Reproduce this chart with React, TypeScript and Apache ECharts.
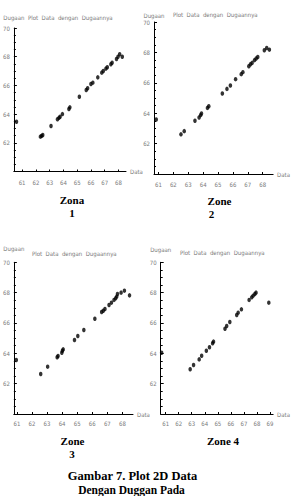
import React, { useEffect, useRef } from "react";
import * as echarts from "echarts";

const zone1X = [60.59, 62.33, 62.42, 62.5, 63.1, 63.57, 63.68, 63.76, 63.93, 64.4, 64.47, 65.16, 65.66, 65.76, 66.0, 66.14, 66.5, 66.79, 66.9, 67.09, 67.19, 67.45, 67.54, 67.86, 67.97, 68.09, 68.28];
const zone1Y = [63.47, 62.43, 62.48, 62.54, 63.17, 63.64, 63.74, 63.82, 64.0, 64.36, 64.47, 65.21, 65.68, 65.8, 66.1, 66.19, 66.56, 66.89, 67.0, 67.17, 67.26, 67.47, 67.58, 67.84, 68.0, 68.17, 68.0];

const zone2X = [60.85, 62.51, 62.73, 63.45, 63.73, 63.83, 63.89, 64.29, 64.38, 65.29, 65.6, 65.83, 66.18, 66.56, 66.67, 67.07, 67.18, 67.29, 67.45, 67.56, 67.67, 68.11, 68.27, 68.45];
const zone2Y = [63.59, 62.61, 62.82, 63.5, 63.72, 63.87, 63.98, 64.35, 64.46, 65.3, 65.6, 65.82, 66.24, 66.57, 66.7, 67.09, 67.22, 67.31, 67.49, 67.6, 67.7, 68.14, 68.29, 68.18];

const zone3X = [60.96, 62.58, 63.04, 63.67, 63.73, 63.98, 64.02, 64.07, 64.82, 65.04, 65.44, 66.17, 66.62, 66.73, 66.84, 67.11, 67.27, 67.44, 67.55, 67.62, 67.67, 67.91, 68.13, 68.47];
const zone3Y = [63.56, 62.64, 63.12, 63.74, 63.82, 64.04, 64.17, 64.26, 64.88, 65.14, 65.54, 66.28, 66.72, 66.81, 66.92, 67.19, 67.34, 67.52, 67.63, 67.74, 67.91, 68.0, 68.13, 67.82];

const zone4X = [60.69, 62.88, 63.14, 63.57, 63.76, 64.12, 64.36, 64.6, 64.67, 65.55, 65.68, 65.92, 66.45, 66.56, 66.81, 67.4, 67.6, 67.71, 67.84, 67.93, 68.91];
const zone4Y = [64.04, 62.95, 63.23, 63.6, 63.84, 64.17, 64.4, 64.66, 64.77, 65.62, 65.8, 66.06, 66.53, 66.68, 66.9, 67.52, 67.69, 67.8, 67.91, 68.0, 67.34];

const xTicks123 = [61, 62, 63, 64, 65, 66, 67, 68];
const xTicks4 = [61, 62, 63, 64, 65, 66, 67, 68, 69];
const yRange = [60, 70];

const plotTitle = "Plot  Data  dengan  Dugaannya";
const yName = "Dugaan";
const xName = "Data";
const captions = [
  { lines: ["Zona", "1"] },
  { lines: ["Zone", "2"] },
  { lines: ["Zone", "3"] },
  { lines: ["Zone 4"] },
];
const figureCaption = ["Gambar 7. Plot 2D Data", "Dengan Duggan Pada"];

const SMALL_FONT = "'Liberation Sans Narrow', 'DejaVu Sans Condensed', sans-serif";
const SERIF = "'Liberation Serif', 'Times New Roman', serif";
const GRAY = "#7a7a7a";

const panels = [
  { xs: zone1X, ys: zone1Y, ticks: xTicks123, left: 12, top: 28, width: 114, height: 143.5, xmin: 60.4, xmax: 68.55, nameGap: 8, labelMargin: 8 },
  { xs: zone2X, ys: zone2Y, ticks: xTicks123, left: 154, top: 22, width: 120, height: 152, xmin: 60.7, xmax: 68.7, nameGap: 4, labelMargin: 7 },
  { xs: zone3X, ys: zone3Y, ticks: xTicks123, left: 12.7, top: 262.3, width: 120.3, height: 151.7, xmin: 60.8, xmax: 68.7, nameGap: 11, labelMargin: 6 },
  { xs: zone4X, ys: zone4Y, ticks: xTicks4, left: 160.7, top: 262.3, width: 119.3, height: 151.7, xmin: 60.62, xmax: 69.24, nameGap: 10, labelMargin: 6 },
];

const titlePos = [
  { x: 28, y: 17 },
  { x: 173, y: 14 },
  { x: 32, y: 253 },
  { x: 180, y: 252 },
];

const captionPos = [
  [{ x: 72, y: 200 }, { x: 72, y: 213 }],
  [{ x: 219.5, y: 201 }, { x: 211.5, y: 214 }],
  [{ x: 72.5, y: 441 }, { x: 72, y: 453.5 }],
  [{ x: 223, y: 441 }],
];

export default function App() {
  const ref = useRef<HTMLDivElement>(null);
  useEffect(() => {
    if (!ref.current) return;
    const chart = echarts.init(ref.current, null, { renderer: "svg" });

    const grid = panels.map((p) => ({ left: p.left, top: p.top, width: p.width, height: p.height, containLabel: false }));
    const xAxis = panels.map((p, i) => ({
      type: "value",
      gridIndex: i,
      min: p.xmin,
      max: p.xmax,
      name: xName,
      nameLocation: "end",
      nameGap: 4,
      nameTextStyle: { fontSize: 6, color: GRAY, fontFamily: SMALL_FONT, verticalAlign: "middle", align: "left" },
      axisLine: { show: true, onZero: false, lineStyle: { color: "#000", width: 1 } },
      axisTick: { show: true, inside: true, length: 2, customValues: p.ticks, lineStyle: { color: "#000", width: 1 } },
      axisLabel: { show: true, customValues: p.ticks, fontSize: 6, color: GRAY, fontFamily: SMALL_FONT, margin: p.labelMargin },
      splitLine: { show: false },
    }));
    const yAxis = panels.map((p, i) => ({
      type: "value",
      gridIndex: i,
      min: yRange[0],
      max: yRange[1],
      interval: 2,
      name: yName,
      nameLocation: "end",
      nameGap: p.nameGap,
      nameTextStyle: { fontSize: 6, color: GRAY, fontFamily: SMALL_FONT },
      axisLine: { show: true, onZero: false, lineStyle: { color: "#000", width: 1 } },
      axisTick: { show: true, inside: true, length: 3, lineStyle: { color: "#000", width: 1 } },
      minorTick: { show: true, splitNumber: 4, length: 2, lineStyle: { color: "#000", width: 1 } },
      axisLabel: {
        fontSize: 6,
        color: GRAY,
        fontFamily: SMALL_FONT,
        margin: 4,
        formatter: (v: number) => (v === yRange[0] ? "" : String(v)),
      },
      splitLine: { show: false },
    }));
    const series = panels.map((p, i) => ({
      type: "scatter",
      xAxisIndex: i,
      yAxisIndex: i,
      symbol: "circle",
      symbolSize: [3.5, 4.5],
      clip: false,
      itemStyle: { color: "#000" },
      data: p.xs.map((x, k) => [x, p.ys[k]]),
    }));

    const graphic: any[] = [];
    titlePos.forEach((t) => {
      graphic.push({
        type: "text",
        x: t.x,
        y: t.y,
        style: { text: plotTitle, fontSize: 6, fill: GRAY, fontFamily: SMALL_FONT, align: "left", verticalAlign: "middle" },
      });
    });
    captions.forEach((c, i) => {
      c.lines.forEach((line, j) => {
        const pos = captionPos[i][j];
        graphic.push({
          type: "text",
          x: pos.x,
          y: pos.y,
          style: { text: line, fontSize: 11, fontWeight: "bold", fill: "#000", fontFamily: SERIF, align: "center", verticalAlign: "middle" },
        });
      });
    });
    graphic.push({
      type: "text",
      x: 132.5,
      y: 476,
      style: { text: figureCaption[0], fontSize: 12.5, fontWeight: "bold", fill: "#000", fontFamily: SERIF, align: "center", verticalAlign: "middle" },
    });
    graphic.push({
      type: "text",
      x: 131.5,
      y: 490,
      style: { text: figureCaption[1], fontSize: 11.5, fontWeight: "bold", fill: "#000", fontFamily: SERIF, align: "center", verticalAlign: "middle" },
    });

    chart.setOption({
      animation: false,
      backgroundColor: "#fff",
      grid,
      xAxis,
      yAxis,
      series,
      graphic,
    } as any);
    return () => chart.dispose();
  }, []);
  return (
    <div
      ref={ref}
      style={{ position: "fixed", left: 0, top: 0, width: 291, height: 496, background: "#fff" }}
    />
  );
}
